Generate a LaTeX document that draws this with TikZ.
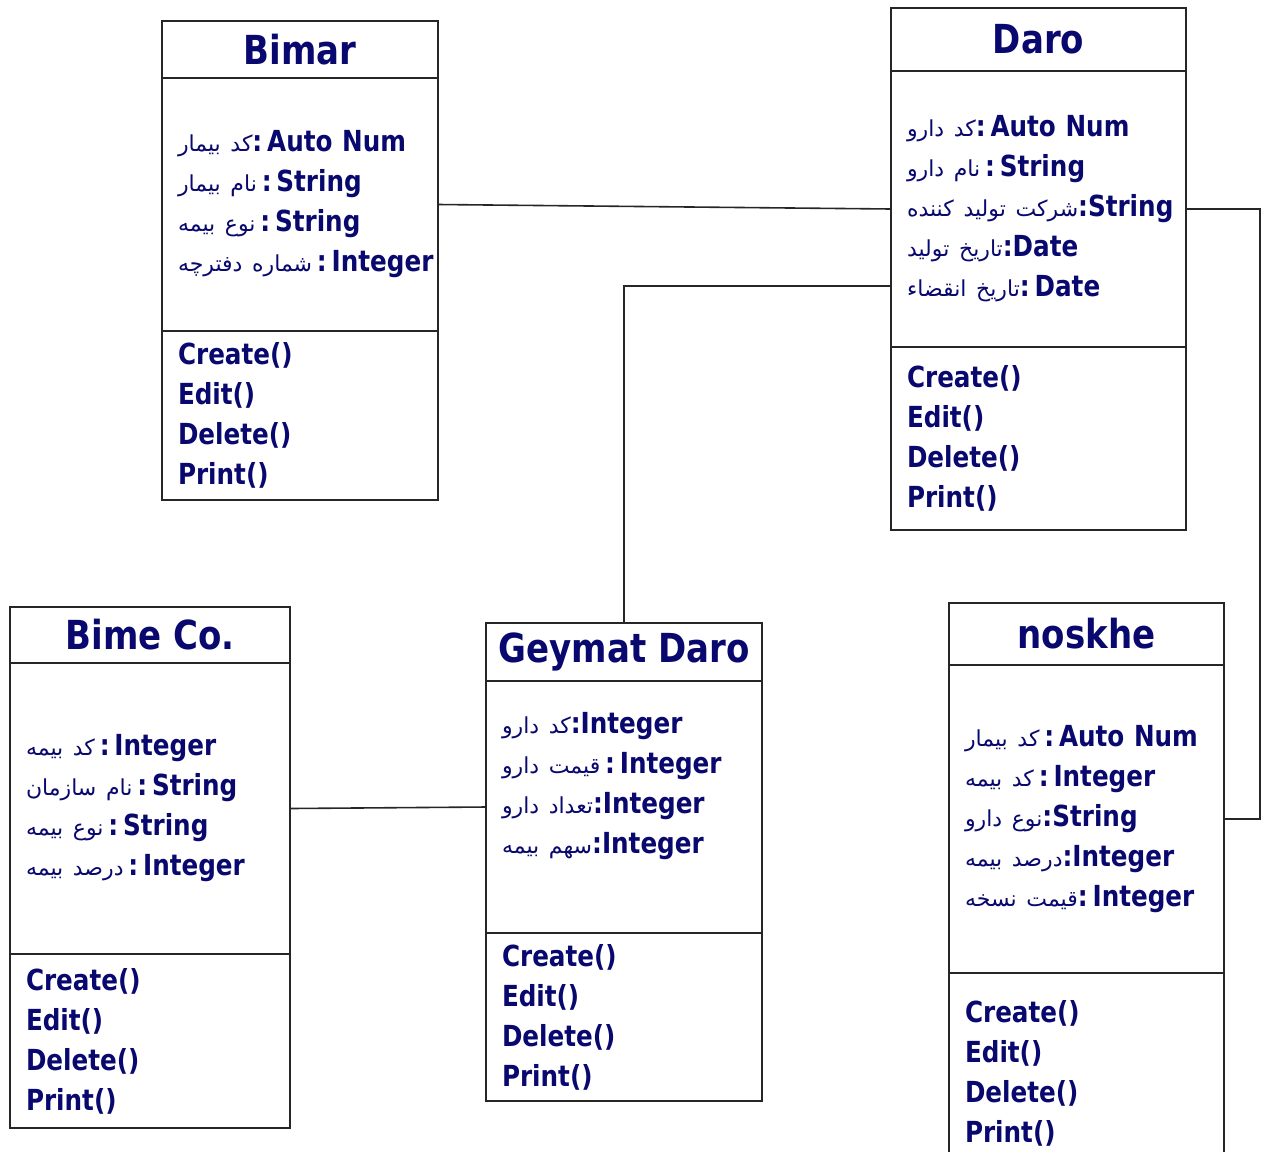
\documentclass[tikz,border=0pt]{standalone}
\usepackage{fontspec}
\usepackage{xcolor}
\usetikzlibrary{positioning, calc}
\TeXXeTstate=1
\newfontfamily\umlfont{DejaVu Sans}[FakeStretch=0.85]
\newfontfamily\farsifont[Script=Arabic, WordSpace=0.5]{DejaVu Sans}
\definecolor{umlnavy}{RGB}{8,8,110}
\newcommand{\fa}[1]{{\farsifont\mdseries\fontsize{11}{20}\selectfont\beginR #1\endR}}
\newcommand{\attr}[3]{\mbox{\fa{#1}#2#3}}
\tikzstyle{umlpart} = [rectangle, draw=black!85, line width=0.8pt, outer sep=0pt, text=umlnavy]
\tikzstyle{classname} = [umlpart, inner sep=0pt, text centered, font=\umlfont\bfseries\fontsize{20}{24}\selectfont]
\tikzstyle{attrs} = [umlpart, inner xsep=8pt, inner ysep=0pt, align=left, font=\umlfont\bfseries\fontsize{14.5}{20}\selectfont]
\tikzstyle{ops} = [attrs]
\tikzstyle{link} = [draw=black!85, line width=0.8pt]

\begin{document}
\begin{tikzpicture}[x=0.5pt, y=-0.5pt]
    \useasboundingbox (0,0) rectangle (1261,1151);
    \clip (0,0) rectangle (1261,1151);

    % Bimar
    \node[classname, minimum width=138pt, minimum height=28.5pt, anchor=north west] (bimar) at (162,21) {Bimar};
    \node[attrs, text width=122pt, minimum height=126.5pt, below=0pt of bimar] (bimar-a) {\attr{کد بیمار}{:\,}{Auto Num}\\\attr{نام بیمار}{\,:\,}{String}\\\attr{نوع بیمه}{\,:\,}{String}\\\attr{شماره دفترچه}{\,:\,}{Integer}};
    \node[ops, text width=122pt, minimum height=84.5pt, below=0pt of bimar-a] (bimar-m) {Create()\\Edit()\\Delete()\\Print()};

    % Daro
    \node[classname, minimum width=147.5pt, minimum height=31.5pt, anchor=north west] (daro) at (891,8) {Daro};
    \node[attrs, text width=131.5pt, minimum height=138pt, below=0pt of daro] (daro-a) {\attr{کد دارو}{:\,}{Auto Num}\\\attr{نام دارو}{\,:\,}{String}\\\attr{شرکت تولید کننده}{:}{String}\\\attr{تاریخ تولید}{:}{Date}\\\attr{تاریخ انقضاء}{:\,}{Date}};
    \node[ops, text width=131.5pt, minimum height=91.5pt, below=0pt of daro-a] (daro-m) {Create()\\Edit()\\Delete()\\Print()};

    % Bime Co.
    \node[classname, minimum width=140pt, minimum height=28pt, anchor=north west] (bime) at (10,607) {Bime Co.};
    \node[attrs, text width=124pt, minimum height=145.5pt, below=0pt of bime] (bime-a) {\attr{کد  بیمه}{\,:\,}{Integer}\\\attr{نام سازمان}{\,:\,}{String}\\\attr{نوع بیمه}{\,:\,}{String}\\\attr{درصد بیمه}{\,:\,}{Integer}};
    \node[ops, text width=124pt, minimum height=87pt, below=0pt of bime-a] (bime-m) {Create()\\Edit()\\Delete()\\Print()};

    % Geymat Daro
    \node[classname, minimum width=138pt, minimum height=29pt, anchor=north west] (geymat) at (486,623) {Geymat Daro};
    \node[attrs, text width=122pt, minimum height=126pt, below=0pt of geymat] (geymat-a) {\attr{کد دارو}{:}{Integer}\\\attr{قیمت  دارو}{\,:\,}{Integer}\\\attr{تعداد دارو}{:}{Integer}\\\attr{سهم بیمه}{:}{Integer}\\[4pt]\mbox{}};
    \node[ops, text width=122pt, minimum height=84pt, below=0pt of geymat-a] (geymat-m) {Create()\\Edit()\\Delete()\\Print()};

    % noskhe
    \node[classname, minimum width=137.5pt, minimum height=31pt, anchor=north west] (noskhe) at (949,603) {noskhe};
    \node[attrs, text width=121.5pt, minimum height=154pt, below=0pt of noskhe] (noskhe-a) {\attr{کد بیمار}{\,:\,}{Auto Num}\\\attr{کد بیمه}{\,:\,}{Integer}\\\attr{نوع دارو}{:}{String}\\\attr{درصد بیمه}{:}{Integer}\\\attr{قیمت نسخه}{:\,}{Integer}};
    \node[ops, text width=121.5pt, minimum height=100pt, below=0pt of noskhe-a] (noskhe-m) {Create()\\Edit()\\Delete()\\Print()};

    % Connections
    \draw[link] (bimar-a.east) -- (daro-a.west);
    \draw[link] ([yshift=-38.5pt]daro-a.west) -| (geymat.north);
    \draw[link] (bime-a.east) -- (geymat-a.west);
    \draw[link] (daro-a.east) -- ++(74,0) |- (noskhe-a.east);

\end{tikzpicture}
\end{document}
